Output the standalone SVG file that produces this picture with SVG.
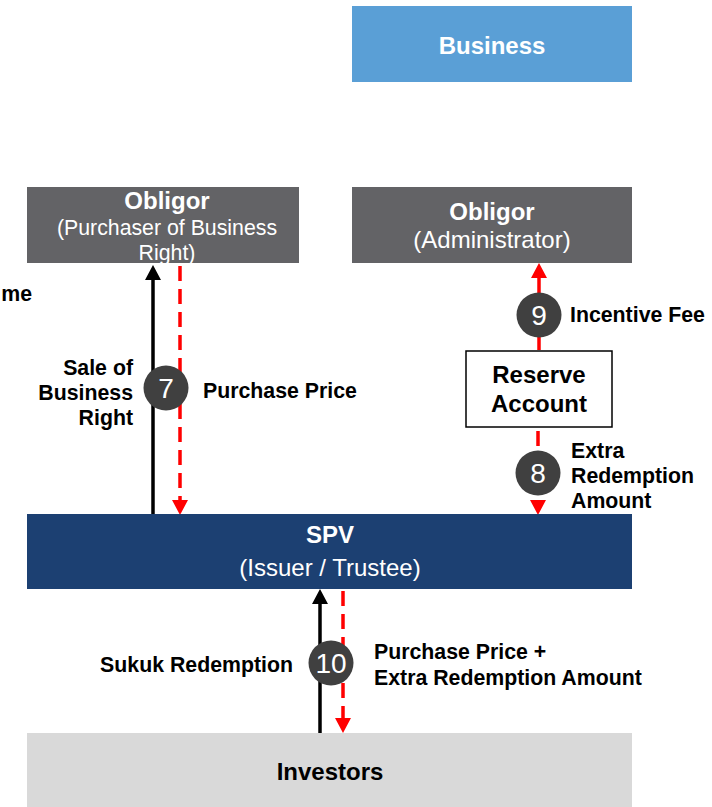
<svg xmlns="http://www.w3.org/2000/svg" width="712" height="807" viewBox="0 0 712 807">
  <style>
    .box-title { font-family: "Liberation Sans", Arial, sans-serif; font-size: 24px; font-weight: bold; fill: #ffffff; text-anchor: middle; }
    .box-sub { font-family: "Liberation Sans", Arial, sans-serif; font-size: 24px; fill: #ffffff; text-anchor: middle; }
    .box-sub-sm { font-family: "Liberation Sans", Arial, sans-serif; font-size: 21.3px; fill: #ffffff; text-anchor: middle; }
    .dark-title { font-family: "Liberation Sans", Arial, sans-serif; font-size: 24px; font-weight: bold; fill: #000000; text-anchor: middle; }
    .label { font-family: "Liberation Sans", Arial, sans-serif; font-size: 21.3px; font-weight: bold; fill: #000000; }
    .num { font-family: "Liberation Sans", Arial, sans-serif; font-size: 28px; fill: #ffffff; text-anchor: middle; }
    .badge { fill: #404040; }
    .flow-black { stroke: #000000; stroke-width: 3.5; fill: none; }
    .flow-red { stroke: #ff0000; stroke-width: 3.5; fill: none; }
    .dashed { stroke-dasharray: 15 8; }
  </style>
  <defs>
    <marker id="head-black" markerUnits="userSpaceOnUse" markerWidth="15" markerHeight="16" refX="0" refY="8" orient="auto">
      <path d="M0,0 L15,8 L0,16 z" fill="#000000"/>
    </marker>
    <marker id="head-red" markerUnits="userSpaceOnUse" markerWidth="15" markerHeight="16" refX="0" refY="8" orient="auto">
      <path d="M0,0 L15,8 L0,16 z" fill="#ff0000"/>
    </marker>
  </defs>

  <rect width="712" height="807" fill="#ffffff"/>

  <!-- stray label at the left edge -->
  <text class="label" x="32" y="301" text-anchor="end">me</text>

  <!-- connectors -->
  <g id="connectors">
    <!-- 7: sale of business right / purchase price -->
    <path class="flow-black" d="M153,515 L153,280" marker-end="url(#head-black)"/>
    <path class="flow-red dashed" d="M180,266 L180,500" marker-end="url(#head-red)"/>
    <!-- 9: incentive fee -->
    <path class="flow-red" d="M539,350 L539,278" marker-end="url(#head-red)"/>
    <!-- 8: extra redemption amount -->
    <path class="flow-red dashed" d="M538,431 L538,500" marker-end="url(#head-red)"/>
    <!-- 10: sukuk redemption / purchase price + extra redemption amount -->
    <path class="flow-black" d="M320,733 L320,604" marker-end="url(#head-black)"/>
    <path class="flow-red dashed" d="M343,591 L343,718" marker-end="url(#head-red)"/>
  </g>

  <g id="business">
    <rect x="352" y="6" width="280" height="76" fill="#5a9fd6"/>
    <text class="box-title" x="492" y="53.5">Business</text>
  </g>

  <g id="obligor-purchaser">
    <rect x="27" y="187" width="272" height="76" fill="#636366"/>
    <text class="box-title" x="167" y="209">Obligor</text>
    <text class="box-sub-sm" x="167" y="235">(Purchaser of Business</text>
    <text class="box-sub-sm" x="167" y="260">Right)</text>
  </g>

  <g id="obligor-administrator">
    <rect x="352" y="187" width="280" height="76" fill="#636366"/>
    <text class="box-title" x="492" y="220">Obligor</text>
    <text class="box-sub" x="492" y="248">(Administrator)</text>
  </g>

  <g id="reserve-account">
    <rect x="466" y="351" width="146" height="76" fill="#ffffff" stroke="#000000" stroke-width="1.5"/>
    <text class="dark-title" x="539" y="383">Reserve</text>
    <text class="dark-title" x="539" y="412">Account</text>
  </g>

  <g id="spv">
    <rect x="27" y="514" width="605" height="75" fill="#1c4072"/>
    <text class="box-title" x="330" y="543">SPV</text>
    <text class="box-sub" x="330" y="576">(Issuer / Trustee)</text>
  </g>

  <g id="investors">
    <rect x="27" y="733" width="605" height="74" fill="#d9d9d9"/>
    <text class="dark-title" x="330" y="780">Investors</text>
  </g>

  <!-- step badges and flow labels -->
  <g id="step-7">
    <circle class="badge" cx="166" cy="388" r="22.5"/>
    <text class="num" x="166" y="398">7</text>
    <text class="label" x="133" y="375" text-anchor="end">Sale of</text>
    <text class="label" x="133" y="400" text-anchor="end">Business</text>
    <text class="label" x="133" y="425" text-anchor="end">Right</text>
    <text class="label" x="203" y="398">Purchase Price</text>
  </g>

  <g id="step-9">
    <circle class="badge" cx="539" cy="315" r="22.5"/>
    <text class="num" x="539" y="325">9</text>
    <text class="label" x="570" y="322">Incentive Fee</text>
  </g>

  <g id="step-8">
    <circle class="badge" cx="538" cy="473" r="22.5"/>
    <text class="num" x="538" y="483">8</text>
    <text class="label" x="571" y="458">Extra</text>
    <text class="label" x="571" y="483">Redemption</text>
    <text class="label" x="571" y="508">Amount</text>
  </g>

  <g id="step-10">
    <circle class="badge" cx="331" cy="663" r="22.5"/>
    <text class="num" x="331" y="673">10</text>
    <text class="label" x="293" y="672" text-anchor="end">Sukuk Redemption</text>
    <text class="label" x="374" y="659">Purchase Price +</text>
    <text class="label" x="374" y="685">Extra Redemption Amount</text>
  </g>
</svg>
